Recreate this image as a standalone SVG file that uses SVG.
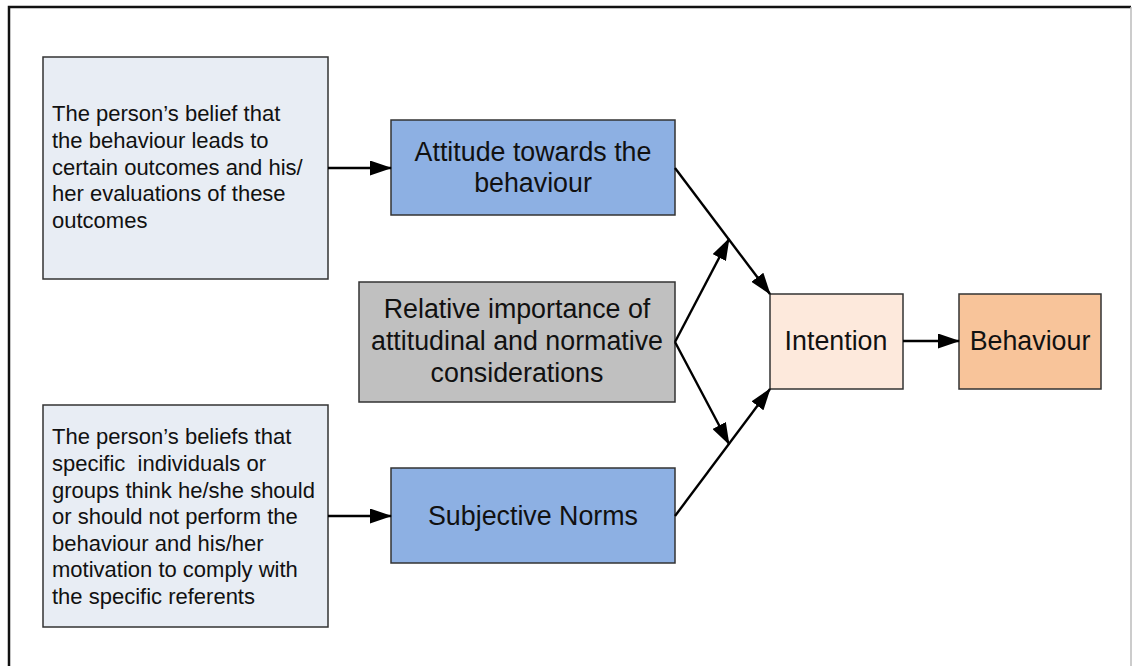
<svg xmlns="http://www.w3.org/2000/svg" width="1132" height="666" viewBox="0 0 1132 666">
<defs>
<style>
.box{stroke:#333;stroke-width:1.5}
.t{font-family:"Liberation Sans",Arial,sans-serif;fill:#111}
.s{font-size:22px}
.m{font-size:26.8px;text-anchor:middle}
.c{stroke:#000;stroke-width:2.4;fill:none;marker-end:url(#ah)}
</style>
<marker id="ah" viewBox="0 0 22 15" refX="21" refY="7.5" markerWidth="22" markerHeight="15" markerUnits="userSpaceOnUse" orient="auto">
<path d="M0,0 L22,7.5 L0,15 z" fill="#000"/>
</marker>
</defs>
<rect width="1132" height="666" fill="#fff"/>
<path d="M9,680 V7 H1131" fill="none" stroke="#111" stroke-width="2.5"/>
<line x1="1131" y1="7" x2="1131" y2="666" stroke="#bbb" stroke-width="1.5"/>

<g id="beliefs-outcomes">
<rect class="box" x="43" y="57" width="285" height="222" fill="#e8edf4"/>
<text class="t s"><tspan x="52" y="121">The person’s belief that</tspan><tspan x="52" y="148">the behaviour leads to</tspan><tspan x="52" y="175">certain outcomes and his/</tspan><tspan x="52" y="201">her evaluations of these</tspan><tspan x="52" y="228">outcomes</tspan></text>
</g>
<g id="attitude">
<rect class="box" x="391" y="120" width="284" height="95" fill="#8db0e3"/>
<text class="t m"><tspan x="533" y="161">Attitude towards the</tspan><tspan x="533" y="192">behaviour</tspan></text>
</g>
<g id="relative">
<rect class="box" x="359" y="282" width="316" height="120" fill="#c0c0c0"/>
<text class="t m"><tspan x="517" y="318">Relative importance of</tspan><tspan x="517" y="350">attitudinal and normative</tspan><tspan x="517" y="382">considerations</tspan></text>
</g>
<g id="beliefs-referents">
<rect class="box" x="43" y="405" width="285" height="222" fill="#e8edf4"/>
<text class="t s"><tspan x="52" y="444">The person’s beliefs that</tspan><tspan x="52" y="471">specific&#160; individuals or</tspan><tspan x="52" y="498">groups think he/she should</tspan><tspan x="52" y="524">or should not perform the</tspan><tspan x="52" y="551">behaviour and his/her</tspan><tspan x="52" y="577">motivation to comply with</tspan><tspan x="52" y="604">the specific referents</tspan></text>
</g>
<g id="subjective-norms">
<rect class="box" x="391" y="468" width="284" height="95" fill="#8db0e3"/>
<text class="t m" x="533" y="525">Subjective Norms</text>
</g>
<g id="intention">
<rect class="box" x="770" y="294" width="133" height="95" fill="#fde9dc"/>
<text class="t m" x="836" y="350">Intention</text>
</g>
<g id="behaviour">
<rect class="box" x="959" y="294" width="142" height="95" fill="#f8c49a"/>
<text class="t m" x="1030" y="350">Behaviour</text>
</g>

<g id="connectors">
<line class="c" x1="328" y1="168" x2="391" y2="168"/>
<line class="c" x1="328" y1="516" x2="391" y2="516"/>
<line class="c" x1="903" y1="341" x2="959" y2="341"/>
<line class="c" x1="675" y1="168" x2="770" y2="294"/>
<line class="c" x1="675" y1="516" x2="770" y2="389"/>
<line class="c" x1="675" y1="342" x2="729" y2="239"/>
<line class="c" x1="675" y1="342" x2="729" y2="444"/>
</g>
</svg>
